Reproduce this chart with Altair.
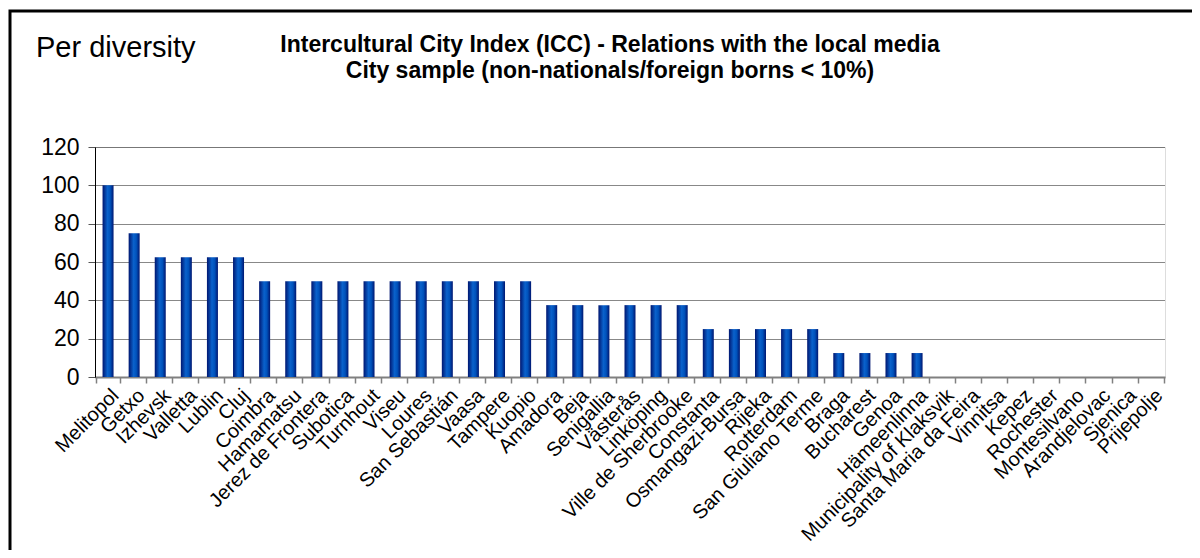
import altair as alt
import pandas as pd

cities = ["Melitopol", "Getxo", "Izhevsk", "Valletta", "Lublin", "Cluj", "Coimbra", "Hamamatsu",
          "Jerez de Frontera", "Subotica", "Turnhout", "Viseu", "Loures", "San Sebastián", "Vaasa",
          "Tampere", "Kuopio", "Amadora", "Beja", "Senigallia", "Västerås", "Linköping",
          "Ville de Sherbrooke", "Constanta", "Osmangazi-Bursa", "Rijeka", "Rotterdam",
          "San Giuliano Terme", "Braga", "Bucharest", "Genoa", "Hämeenlinna",
          "Municipality of Klaksvik", "Santa Maria da Feira", "Vinnitsa", "Kepez", "Rochester",
          "Montesilvano", "Arandjelovac", "Sjenica", "Prijepolje"]
values = [100, 75, 62.5, 62.5, 62.5, 62.5, 50, 50, 50, 50, 50, 50, 50, 50, 50, 50, 50,
          37.5, 37.5, 37.5, 37.5, 37.5, 37.5, 25, 25, 25, 25, 25, 12.5, 12.5, 12.5, 12.5,
          0, 0, 0, 0, 0, 0, 0, 0, 0]
y_ticks = [0, 20, 40, 60, 80, 100, 120]
corner_label = "Per diversity"
title_lines = ["Intercultural City Index (ICC) - Relations with the  local media",
               "City sample (non-nationals/foreign borns < 10%)"]

df = pd.DataFrame({"city": cities, "value": values})
FONT = "Liberation Sans, Arial, sans-serif"

grad = alt.Gradient(
    gradient="linear", x1=0, x2=1, y1=0, y2=0,
    stops=[alt.GradientStop(color="#001670", offset=0),
           alt.GradientStop(color="#0a62cc", offset=0.45),
           alt.GradientStop(color="#0052bb", offset=0.7),
           alt.GradientStop(color="#001670", offset=1)])

bars = alt.Chart(df).mark_bar(color=grad, size=11).encode(
    x=alt.X("city:N", sort=cities, title=None,
            axis=alt.Axis(labelAngle=-45, labelFontSize=20, labelFont=FONT, labelColor="black",
                          labelLimit=0, labelOverlap=False,
                          tickBand="extent", tickColor="#808080", tickSize=6, tickWidth=1.5,
                          domainColor="#808080", domainWidth=2, labelPadding=2)),
    y=alt.Y("value:Q", title=None, scale=alt.Scale(domain=[0, 120], nice=False),
            axis=alt.Axis(values=y_ticks, labelFontSize=23, labelFont=FONT, labelColor="black",
                          tickColor="#555", tickSize=7, domainColor="black", domainWidth=1,
                          grid=True, gridColor="#111", gridDash=[1, 1], gridWidth=1,
                          labelPadding=9)),
)

one = pd.DataFrame({"a": [0]})
border = alt.Chart(one).mark_rect(fill=None, stroke="black", strokeWidth=3).encode(
    x=alt.value(-85), x2=alt.value(1300), y=alt.value(-136), y2=alt.value(600))

corner = alt.Chart(one).mark_text(align="left", baseline="middle", fontSize=29, font=FONT,
                                  color="black").encode(
    x=alt.value(-59), y=alt.value(-99), text=alt.value(corner_label))
t1 = alt.Chart(one).mark_text(align="center", baseline="middle", fontSize=23, fontWeight="bold",
                              font=FONT, color="black").encode(
    x=alt.value(515), y=alt.value(-102), text=alt.value(title_lines[0]))
t2 = alt.Chart(one).mark_text(align="center", baseline="middle", fontSize=23, fontWeight="bold",
                              font=FONT, color="black").encode(
    x=alt.value(515), y=alt.value(-76), text=alt.value(title_lines[1]))

chart = alt.layer(bars, border, corner, t1, t2).properties(
    width=1070, height=230,
    autosize=alt.AutoSizeParams(type="none"),
    padding={"left": 87, "top": 139, "right": 27, "bottom": 173},
).configure_view(stroke=None).configure(background="white")

chart.save("out.html", embed_options={"renderer": "svg", "actions": False})
